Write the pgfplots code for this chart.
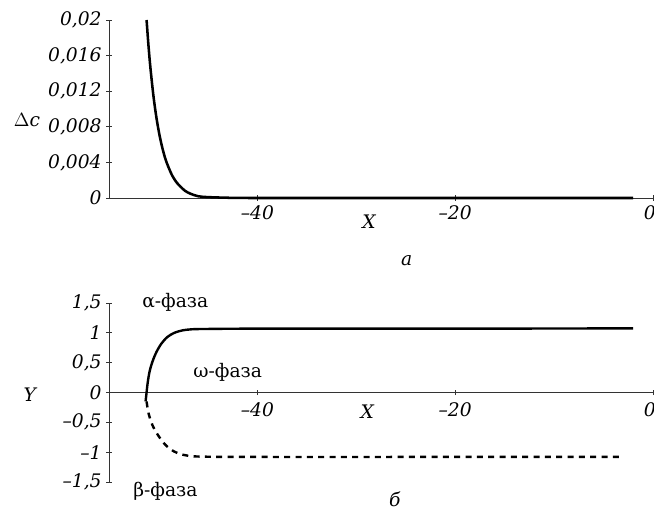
\documentclass[border=0pt]{standalone}
\usepackage{pgfplots}
\pgfplotsset{compat=1.18}
\usepackage{fontspec}
\setmainfont{DejaVu Serif}
\newcommand{\lbl}{\fontsize{14}{16}\selectfont}
\begin{document}
\begin{tikzpicture}[x=1pt,y=1pt]
\path[use as bounding box] (0,0) rectangle (490.5,383.25);
\pgfplotsset{
  panel/.style={
    scale only axis, width=408pt, anchor=south west,
    xmin=-55, xmax=0, clip=false,
    tick style={black!80, line width=0.6pt}, major tick length=4pt,
    tick align=center,
    ticklabel style={font=\fontsize{14}{16}\selectfont\itshape},
    xtick={-40,-20,0}, xticklabels={–40,–20,{\llap{0\hspace*{-2pt}}}},
    scaled y ticks=false,
    hide obscured x ticks=false, hide obscured y ticks=false,
  },
  fixlines/.style={
    axis line style={-, line width=0.6pt, black!80},
    every outer x axis line/.append style={-},
    every inner x axis line/.append style={-},
    every outer y axis line/.append style={-},
  },
}
% a
\begin{axis}[panel, at={(81.75pt,234.75pt)}, height=133.5pt,
  axis x line=bottom, axis y line=left, fixlines,
  ymin=0, ymax=0.02,
  ytick={0,0.004,0.008,0.012,0.016,0.02},
  yticklabels={0,{0,004},{0,008},{0,012},{0,016},{0,02}}]
\addplot[black, line width=1.9pt, smooth] coordinates {
(-51.2,0.0200) (-51.0,0.0170) (-50.8,0.0145) (-50.5,0.0114) (-50.2,0.0090)
(-49.9,0.0071) (-49.6,0.0056) (-49.3,0.0044) (-49.0,0.0035) (-48.6,0.0025)
(-48.2,0.0018) (-47.8,0.0013) (-47.3,0.0008) (-46.8,0.0005) (-46.0,0.0002)
(-45.0,0.0001) (-43.0,0.00003) (-40,0) (-20,0) (-2,0)};
\node[font=\lbl] at (axis cs:-63.3,0.0088) {$\Delta\mathit{c}$};
\node[font=\lbl\itshape] at (axis cs:-28.7,-0.0027) {X};
\node[font=\lbl\itshape] at (axis cs:-24.9,-0.0070) {а};
\end{axis}
% б
\begin{axis}[panel, at={(81.75pt,21.75pt)}, height=134.25pt,
  axis x line=middle, axis y line=left, fixlines,
  ymin=-1.5, ymax=1.5,
  ytick={-1.5,-1,-0.5,0,0.5,1,1.5},
  yticklabels={{–1,5},–1,{–0,5},0,{0,5},1,{1,5}},
  xticklabel style={yshift=-2pt}]
\addplot[black, line width=1.8pt, smooth] coordinates {
(-51.3,-0.15) (-51.2,0) (-51.1,0.15) (-50.9,0.35) (-50.6,0.52) (-50.2,0.68)
(-49.7,0.82) (-49.1,0.93) (-48.4,1.00) (-47.6,1.04) (-46.6,1.06)
(-45,1.065) (-40,1.07) (-20,1.07) (-2,1.075)};
\addplot[black, line width=1.8pt, dash pattern=on 4.5pt off 4pt, smooth] coordinates {
(-51.2,-0.15) (-51.0,-0.35) (-50.6,-0.55) (-50.1,-0.70) (-49.5,-0.84)
(-48.8,-0.95) (-48.0,-1.02) (-47.0,-1.06) (-45.5,-1.075) (-40,-1.08)
(-20,-1.08) (-3,-1.08)};
\node[font=\lbl\itshape] at (axis cs:-63,-0.03) {Y};
\node[font=\lbl] at (axis cs:-48.3,1.51) {α-фаза};
\node[font=\lbl] at (axis cs:-43,0.34) {ω-фаза};
\node[font=\lbl] at (axis cs:-49.3,-1.66) {β-фаза};
\node[font=\lbl\itshape] at (axis cs:-28.9,-0.33) {X};
\node[font=\lbl\itshape] at (axis cs:-26.1,-1.79) {б};
\end{axis}
\end{tikzpicture}
\end{document}
